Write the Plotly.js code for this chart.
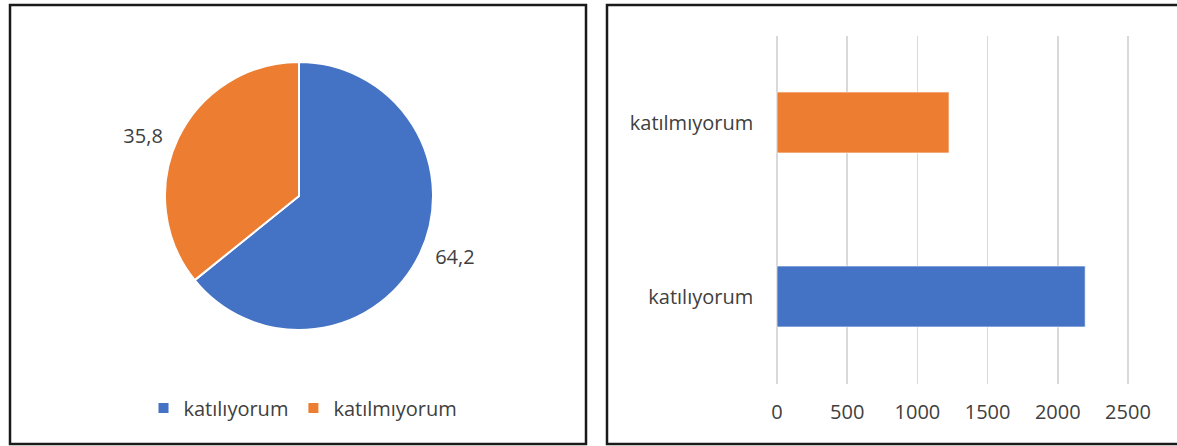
<!DOCTYPE html>
<html>
<head>
<meta charset="utf-8">
<script src="https://cdn.plot.ly/plotly-3.0.1.min.js"></script>
<style>html,body{margin:0;padding:0;background:#fff;}#chart{width:1177px;height:446px;}</style>
</head>
<body>
<div id="chart"></div>
<script>
// Data
const pieLabels = ['katılıyorum', 'katılmıyorum'];
const piePercents = [64.2, 35.8];
const barCategories = ['katılıyorum', 'katılmıyorum'];
const barValues = [2195, 1225];
const seriesColors = ['#4472C4', '#ED7D31'];
const xTickVals = [0, 500, 1000, 1500, 2000, 2500];

const W = 1177, H = 446;
const px = v => v / W;
const py = v => 1 - v / H;
const FONT = '"Open Sans", "Liberation Sans", sans-serif';
const TXT = '#404040';
const FS = 20;
const GRID = '#d9d9d9';

const pieTrace = {
  type: 'pie',
  labels: pieLabels,
  values: piePercents,
  sort: false,
  direction: 'clockwise',
  rotation: 0,
  marker: { colors: seriesColors, line: { color: '#ffffff', width: 2 } },
  textposition: 'outside',
  texttemplate: ['\u00a0\u2009%{value:.1f}', '%{value:.1f}\u00a0\u2009'],
  textfont: { family: FONT, size: FS, color: TXT },
  hoverinfo: 'label+value',
  domain: { x: [px(165), px(433)], y: [py(330), py(62)] },
  showlegend: true
};

const barTrace = {
  type: 'bar',
  orientation: 'h',
  y: barCategories,
  x: barValues,
  marker: { color: seriesColors, line: { color: 'rgba(255,255,255,0.6)', width: 1 } },
  xaxis: 'x',
  yaxis: 'y',
  showlegend: false,
  hoverinfo: 'x+y'
};

const layout = {
  width: W,
  height: H,
  autosize: false,
  margin: { l: 0, r: 0, t: 0, b: 0 },
  paper_bgcolor: '#ffffff',
  plot_bgcolor: '#ffffff',
  separators: ',.',
  font: { family: FONT, size: FS, color: TXT },
  bargap: 0.65,
  xaxis: {
    domain: [px(774.2), px(1130.8)],
    range: [-20, 2520],
    tickvals: xTickVals,
    showgrid: true,
    gridcolor: GRID,
    gridwidth: 1.5,
    zeroline: true,
    zerolinecolor: GRID,
    zerolinewidth: 1.5,
    showline: false,
    ticks: '',
    ticklabelstandoff: 14,
    tickfont: { family: FONT, size: FS, color: TXT },
    automargin: false,
    fixedrange: true
  },
  yaxis: {
    domain: [py(383.5), py(35.5)],
    type: 'category',
    showgrid: false,
    zeroline: false,
    showline: false,
    ticks: '',
    ticklabelstandoff: 20,
    tickfont: { family: FONT, size: FS, color: TXT },
    automargin: false,
    fixedrange: true
  },
  legend: {
    orientation: 'h',
    x: px(303),
    xanchor: 'center',
    y: py(408),
    yanchor: 'middle',
    itemwidth: 30,
    font: { family: FONT, size: FS, color: TXT },
    bgcolor: 'rgba(0,0,0,0)'
  },
  shapes: [
    { type: 'rect', xref: 'paper', yref: 'paper', x0: px(10), x1: px(586), y0: py(444), y1: py(5),
      line: { color: '#1a1a1a', width: 2.5 }, fillcolor: 'rgba(0,0,0,0)' },
    { type: 'rect', xref: 'paper', yref: 'paper', x0: px(607), x1: px(1182), y0: py(444), y1: py(5),
      line: { color: '#1a1a1a', width: 2.5 }, fillcolor: 'rgba(0,0,0,0)' }
  ]
};

Plotly.newPlot('chart', [pieTrace, barTrace], layout, { displayModeBar: false, staticPlot: true });
</script>
</body>
</html>
